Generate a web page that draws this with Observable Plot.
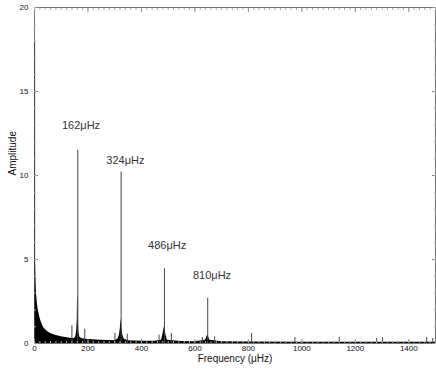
<!DOCTYPE html>
<html>
<head>
<meta charset="utf-8">
<script src="https://cdn.jsdelivr.net/npm/d3@7"></script>
<script src="https://cdn.jsdelivr.net/npm/@observablehq/plot@0.6"></script>
<style>
  html, body { margin: 0; padding: 0; background: white; }
</style>
</head>
<body>
<div id="chart"></div>
<script>
// Noise-floor envelope of the amplitude spectrum (frequency in µHz, amplitude)
const envFreq = [0, 0.5, 1, 1.5, 2, 3, 4, 5, 6, 8, 10, 13, 16, 20, 25, 30, 35, 42, 50, 60, 72, 85, 100, 122, 140, 150,
  155, 158, 160, 161, 162, 163, 164, 166, 170, 180, 200, 250, 300,
  312, 318, 321, 323, 324, 325, 327, 330, 336, 350, 400, 450,
  475, 480, 484, 486, 488, 492, 497, 550, 600,
  640, 645, 648, 651, 656, 700, 800, 1000, 1200, 1500];
const envAmp = [17.9, 14, 11, 9, 7.5, 5.8, 4.8, 4.1, 3.5, 2.9, 2.5, 2.1, 1.85, 1.55, 1.3, 1.08, 0.92, 0.8, 0.7, 0.6, 0.52, 0.46, 0.4, 0.34, 0.3, 0.3,
  0.45, 0.8, 1.4, 2.7, 2.9, 2.7, 1.4, 0.7, 0.35, 0.28, 0.24, 0.2, 0.17,
  0.25, 0.5, 0.9, 1.3, 1.5, 1.3, 0.9, 0.5, 0.25, 0.16, 0.14, 0.13,
  0.2, 0.5, 0.85, 1.0, 0.85, 0.5, 0.2, 0.12, 0.11,
  0.2, 0.4, 0.5, 0.4, 0.2, 0.1, 0.09, 0.08, 0.08, 0.08];

// Spectral spikes
const spikeFreq = [0.5, 162, 324, 486, 648, 140, 188, 301, 347, 466, 512, 628, 674, 812, 974, 1140, 1280, 1302, 1467, 1490];
const spikeAmp  = [17.9, 11.5, 10.2, 4.45, 2.7, 1.05, 0.85, 0.6, 0.55, 0.5, 0.6, 0.35, 0.4, 0.6, 0.35, 0.38, 0.3, 0.35, 0.35, 0.3];

// Annotations
const labelText = ["162μHz", "324μHz", "486μHz", "810μHz"];
const labelFreq = [174, 340, 496, 664];
const labelAmp  = [13.0, 10.9, 5.85, 4.05];

// Tick values
const xTicks = [0, 200, 400, 600, 800, 1000, 1200, 1400];
const yTicks = [0, 5, 10, 15, 20];
const xMinor = d3.range(0, 1501, 20);
const yMinor = d3.range(0, 21, 1);

const envelope = envFreq.map((f, i) => ({f, a: envAmp[i]}));
const spikes = spikeFreq.map((f, i) => ({f, a: spikeAmp[i]}));
const labels = labelText.map((t, i) => ({t, f: labelFreq[i], a: labelAmp[i]}));

const tickColor = "#888";

const chart = Plot.plot({
  width: 436,
  height: 372,
  marginLeft: 34,
  marginRight: 1,
  marginTop: 7,
  marginBottom: 29,
  x: {domain: [0, 1500]},
  y: {domain: [0, 20]},
  style: {fontFamily: "'Liberation Sans', Arial, sans-serif", fontSize: "8px", color: "#111", background: "white"},
  marks: [
    Plot.frame({stroke: "#777"}),
    Plot.areaY(envelope, {x: "f", y: "a", fill: "black"}),
    Plot.ruleX(spikes, {x: "f", y1: 0, y2: "a", stroke: "#444", strokeWidth: 1}),
    // major ticks + labels
    Plot.axisX(xTicks, {anchor: "bottom", tickSize: -4, tickPadding: 6, stroke: tickColor, label: null, tickFormat: d3.format("d")}),
    Plot.axisY(yTicks, {anchor: "left", tickSize: -4, tickPadding: 10, stroke: tickColor, label: null, tickFormat: d3.format("d")}),
    Plot.axisX(xTicks, {anchor: "top", tickSize: -4, stroke: tickColor, fill: "none", label: null}),
    Plot.axisY(yTicks, {anchor: "right", tickSize: -4, stroke: tickColor, fill: "none", label: null}),
    // minor ticks
    Plot.axisX(xMinor, {anchor: "bottom", tickSize: -2, stroke: "#aaa", fill: "none", label: null}),
    Plot.axisX(xMinor, {anchor: "top", tickSize: -2, stroke: "#aaa", fill: "none", label: null}),
    Plot.axisY(yMinor, {anchor: "left", tickSize: -2, stroke: "#aaa", fill: "none", label: null}),
    Plot.axisY(yMinor, {anchor: "right", tickSize: -2, stroke: "#aaa", fill: "none", label: null}),
    // axis titles
    Plot.text(["Amplitude"], {frameAnchor: "left", rotate: -90, dx: -22, fontSize: 10, fill: "#111"}),
    Plot.text(["Frequency (μHz)"], {frameAnchor: "bottom", dy: 18, fontSize: 10, fill: "#111"}),
    // annotations
    Plot.text(labels, {x: "f", y: "a", text: "t", fontSize: 11, fill: "#333"})
  ]
});
document.getElementById("chart").appendChild(chart);
</script>
</body>
</html>
